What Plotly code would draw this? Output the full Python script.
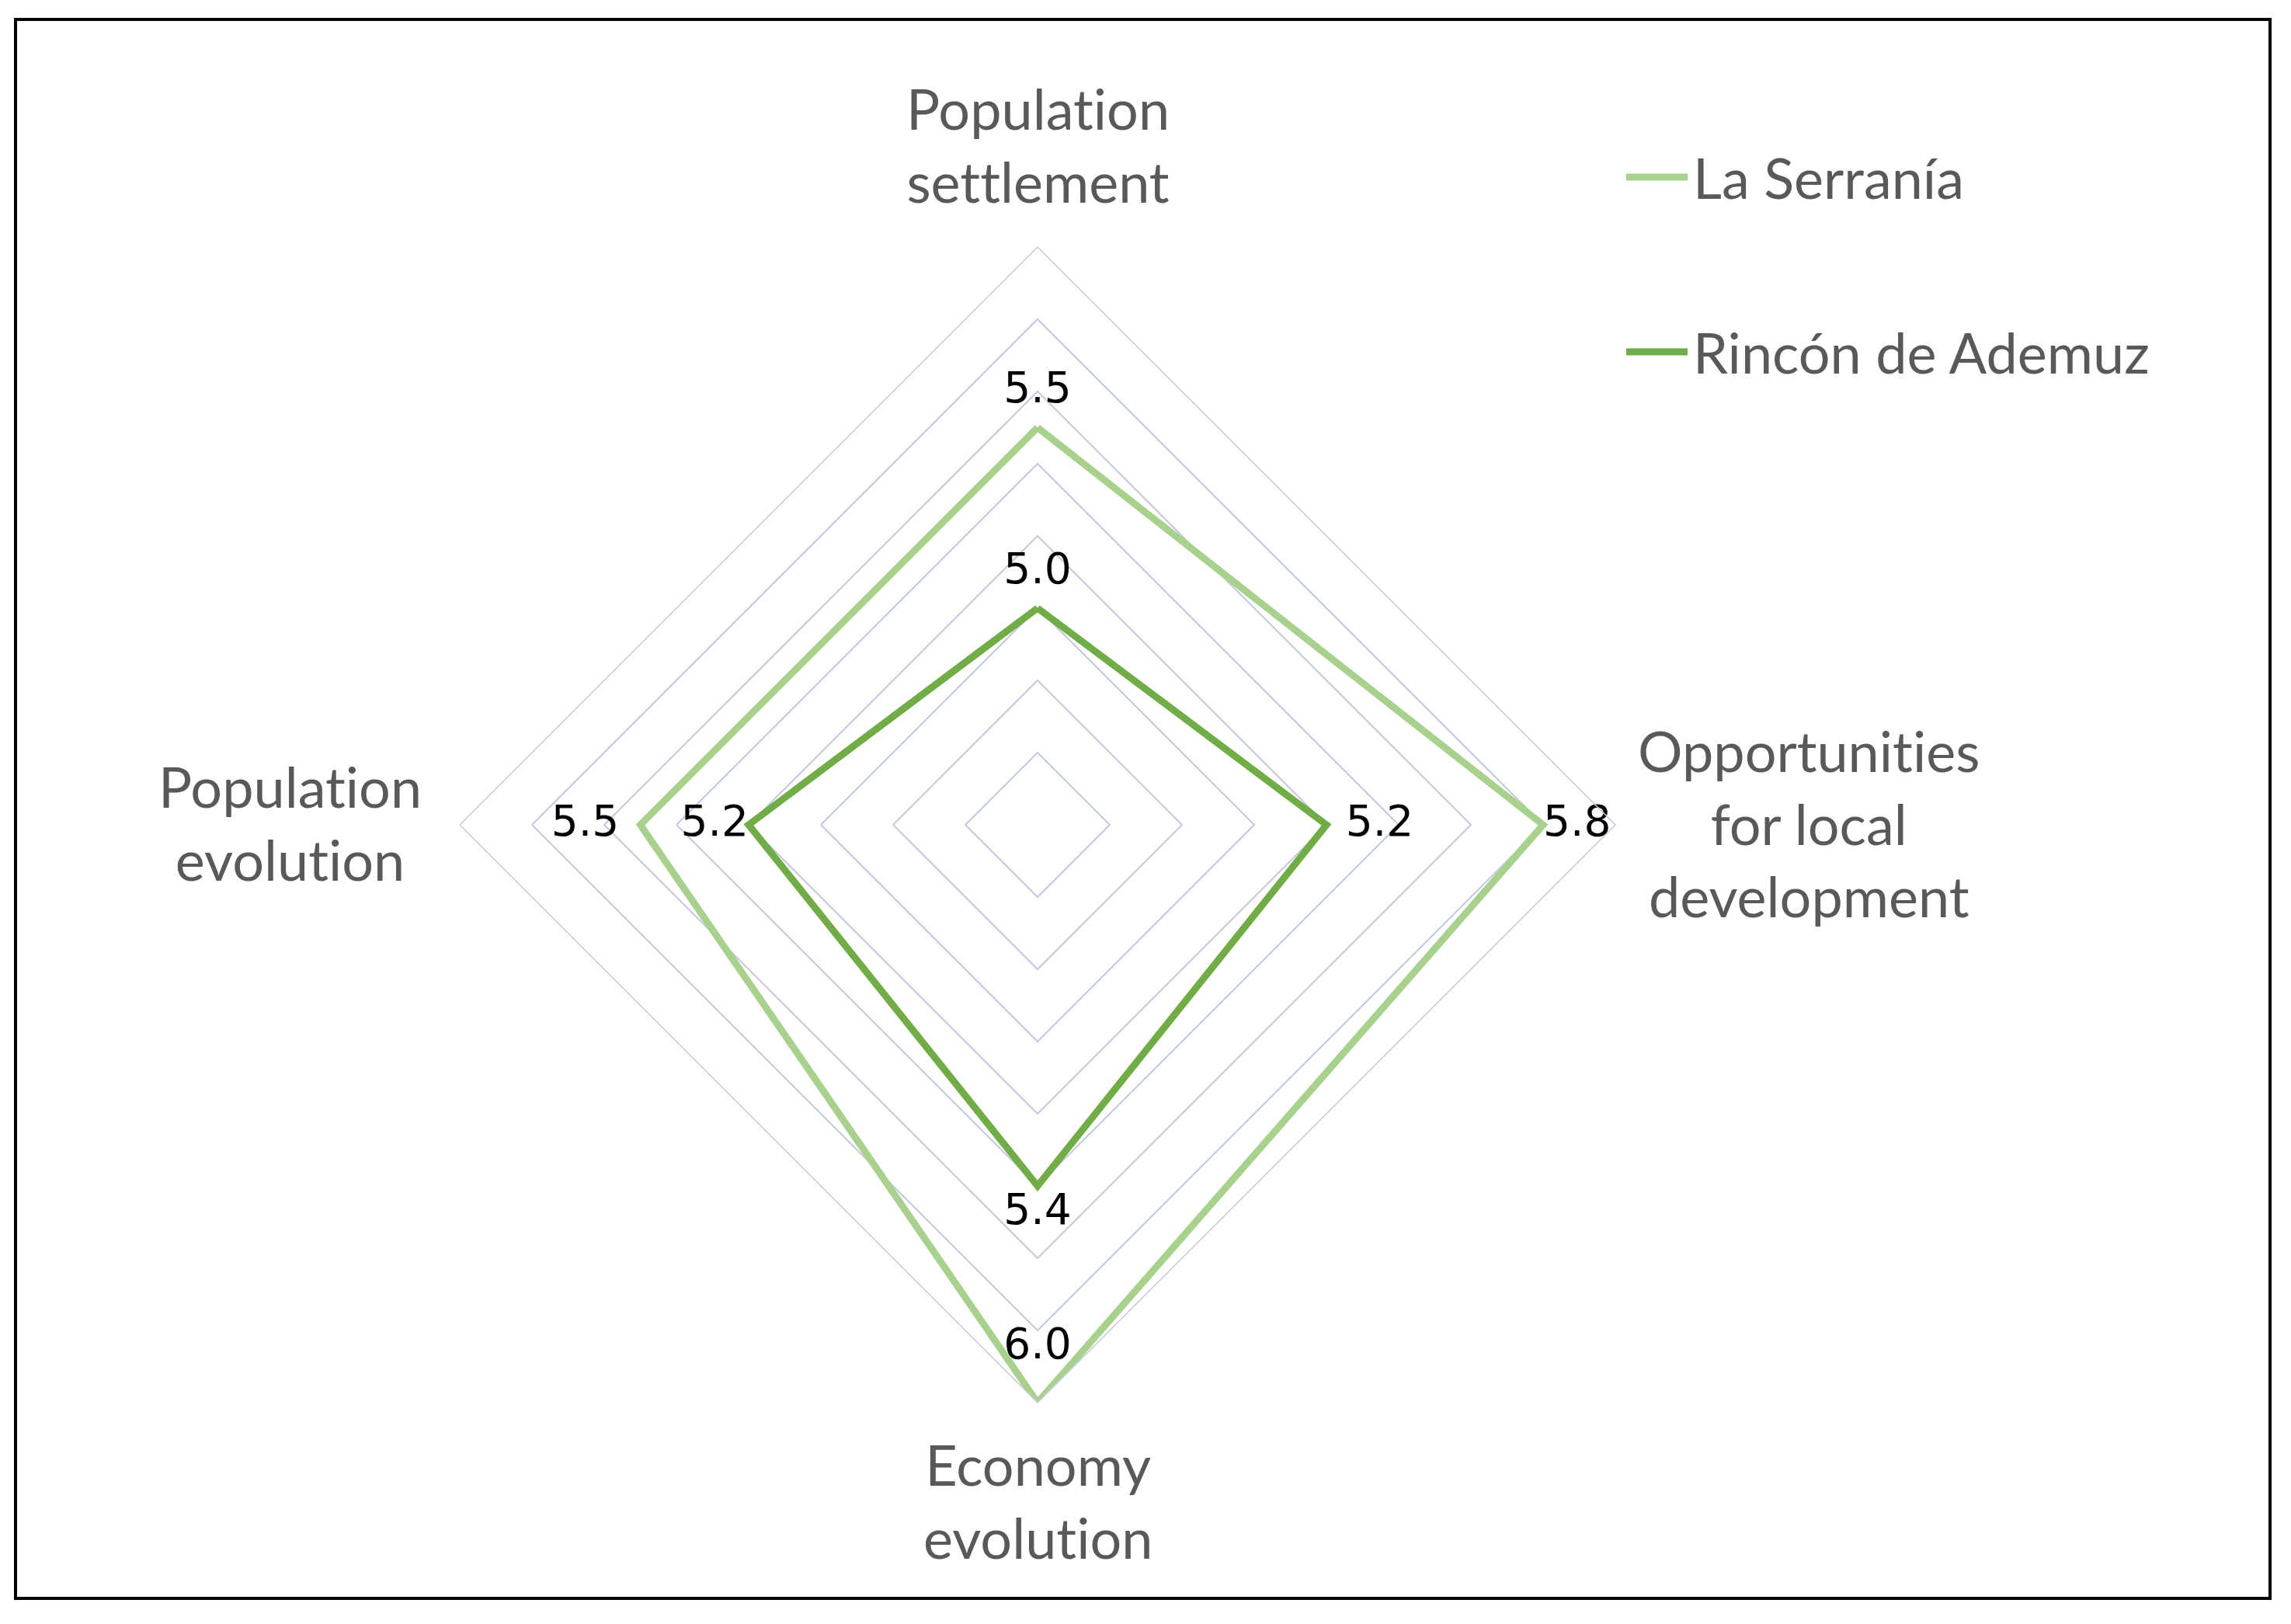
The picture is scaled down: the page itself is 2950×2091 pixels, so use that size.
import plotly.graph_objects as go

# categories (clockwise from top)
categories = ["Population settlement", "Opportunities for local development",
              "Economy evolution", "Population evolution"]
category_labels = ["Population<br>settlement", "Opportunities<br>for local<br>development",
                   "Economy<br>evolution", "Population<br>evolution"]

series_names = ["La Serranía", "Rincón de Ademuz"]
serrania = [5.5, 5.8, 6.0, 5.5]
rincon = [5.0, 5.2, 5.4, 5.2]

series_colors = ["#a9d18e", "#70ad47"]
label_pos = [
    ["top center", "middle right", "top center", "middle left"],
    ["top center", "middle right", "bottom center", "middle left"],
]
# invisible marker sizes, only used to push the value labels away from the points
label_pad = [[28, 0, 68, 42], [28, 38, 10, 0]]

W, H = 2950, 2091
OFF = 8  # page body margin


def px(x, y):
    # pixel in the picture -> paper coords
    return (x - OFF) / W, 1 - (y - OFF) / H


def no_lig(s):
    # Lato joins "ti"/"tt" into ligatures, the original font does not
    return s.replace("ti", "t\u200ci").replace("tt", "t\u200ct")


fig = go.Figure()

for name, vals, col, pos, pad in zip(series_names, [serrania, rincon], series_colors,
                                     label_pos, label_pad):
    r = vals + vals[:1]
    theta = categories + categories[:1]
    txt = ["%.1f" % v for v in vals] + [""]
    fig.add_trace(go.Scatterpolar(
        r=r, theta=theta, mode="lines+markers+text", name=name,
        line=dict(color=col, width=9),
        marker=dict(size=pad + [0], color="rgba(0,0,0,0)", line=dict(width=0)),
        text=txt, textposition=pos + ["top center"],
        textfont=dict(family="DejaVu Sans", size=55, color="#000000"),
        showlegend=False, hoverinfo="skip",
    ))

grid_col = "#c3c9dd"
dx0, dy1 = px(592, 318)
dx1, dy0 = px(2080, 1806)
fig.update_layout(
    width=W, height=H,
    margin=dict(l=0, r=0, t=0, b=0),
    paper_bgcolor="white",
    polar=dict(
        domain=dict(x=[dx0, dx1], y=[dy0, dy1]),
        bgcolor="white",
        gridshape="linear",
        radialaxis=dict(range=[4.4, 6.0], tick0=4.4, dtick=0.2, showticklabels=False,
                        ticks="", showline=False, gridcolor=grid_col, gridwidth=1.5),
        angularaxis=dict(rotation=90, direction="clockwise", showticklabels=False,
                         ticks="", showgrid=False, showline=True,
                         linecolor=grid_col, linewidth=1.5),
    ),
)

# category labels
label_xy = [(1336, 186), (2329, 1059), (1336, 1932), (373, 1059)]
for lab, (x, y) in zip(category_labels, label_xy):
    ax, ay = px(x, y)
    fig.add_annotation(x=ax, y=ay, xref="paper", yref="paper", text=no_lig(lab),
                       showarrow=False, xanchor="center", yanchor="middle", align="center",
                       font=dict(family="Lato", size=72, color="#595959"))

# legend drawn by hand
legend_rows = [228, 453]
for name, col, y in zip(series_names, series_colors, legend_rows):
    x0, yy = px(2094, y)
    x1, _ = px(2173, y)
    fig.add_shape(type="line", xref="paper", yref="paper", x0=x0, x1=x1, y0=yy, y1=yy,
                  line=dict(color=col, width=9))
    tx, _ = px(2178, y)
    fig.add_annotation(x=tx, y=yy, xref="paper", yref="paper", text=name, showarrow=False,
                       xanchor="left", yanchor="middle",
                       font=dict(family="Lato", size=72, color="#595959"))

# outer frame
bx0, by1 = px(20, 25)
bx1, by0 = px(2923, 2058)
fig.add_shape(type="rect", xref="paper", yref="paper", x0=bx0, x1=bx1, y0=by0, y1=by1,
              line=dict(color="black", width=4))

fig.write_html("out.html")
